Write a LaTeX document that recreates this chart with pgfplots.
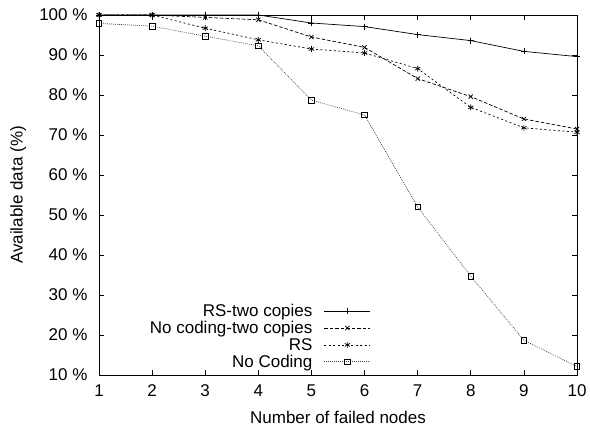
\documentclass[border=0pt]{standalone}
\usepackage{fontspec}
\setmainfont{Liberation Sans}
\usepackage{pgfplots}
\pgfplotsset{compat=1.18}
\newcommand{\gap}{\rule{11pt}{0pt}}

\begin{document}
\begin{tikzpicture}[font=\fontsize{17}{20}\selectfont]
\begin{axis}[
  scale only axis,
  width=478pt, height=360pt,
  xmin=1, xmax=10, ymin=10, ymax=100,
  xtick={1,...,10},
  ytick={10,20,...,100},
  yticklabel={\pgfmathprintnumber{\tick} \%},
  /pgf/number format/assume math mode=true,
  tick align=inside,
  major tick length=5pt,
  axis line style={line width=0.9pt},
  every tick/.style={line width=0.7pt, black},
  xticklabel style={yshift=-6pt},
  yticklabel style={xshift=-8pt},
  xlabel={Number of failed nodes},
  ylabel={Available data (\%)},
  xlabel style={at={(axis description cs:0.5,-0.118)}, anchor=center},
  ylabel style={at={(axis description cs:-0.169,0.5)}, anchor=center},
  legend style={draw=none, fill=none, at={(axis cs:6.12,11.4)}, anchor=south east,
    row sep=2pt, inner sep=0pt, nodes={inner sep=0.6pt}, font=\fontsize{17}{18}\selectfont},
  legend cell align=right,
  legend plot pos=right,
  legend image code/.code={
    \draw[mark repeat=2, mark phase=2] plot coordinates {(0pt,0pt) (23pt,0pt) (46pt,0pt)};},
  every axis plot/.append style={line width=0.7pt, mark size=3pt},
]
\addplot[black, solid, mark=+, mark options={solid}] coordinates {
  (1,100) (2,100) (3,100) (4,100) (5,98.0) (6,97.1) (7,95.1) (8,93.6) (9,90.9) (10,89.6)};
\addlegendentry{RS-two copies\gap}
\addplot[black, dash pattern=on 3.5pt off 2pt, mark=x, mark options={solid}] coordinates {
  (1,100) (2,100) (3,99.4) (4,98.8) (5,94.5) (6,91.9) (7,84.1) (8,79.6) (9,74.0) (10,71.5)};
\addlegendentry{No coding-two copies\gap}
\addplot[black, dash pattern=on 2pt off 2.5pt, mark=asterisk, mark options={solid}] coordinates {
  (1,100) (2,100) (3,96.7) (4,93.8) (5,91.5) (6,90.5) (7,86.6) (8,76.9) (9,71.8) (10,70.7)};
\addlegendentry{RS\gap}
\addplot[black!75, dash pattern=on 0.8pt off 1.2pt, mark=square, mark size=2.8pt, mark options={solid, black}] coordinates {
  (1,97.9) (2,97.2) (3,94.7) (4,92.3) (5,78.7) (6,75.0) (7,52.0) (8,34.7) (9,18.7) (10,12.1)};
\addlegendentry{No Coding\gap}
\end{axis}
\path ([shift={(-99pt,-51pt)}]current axis.south west) rectangle ([shift={(13pt,15pt)}]current axis.north east);
\end{tikzpicture}
\end{document}
